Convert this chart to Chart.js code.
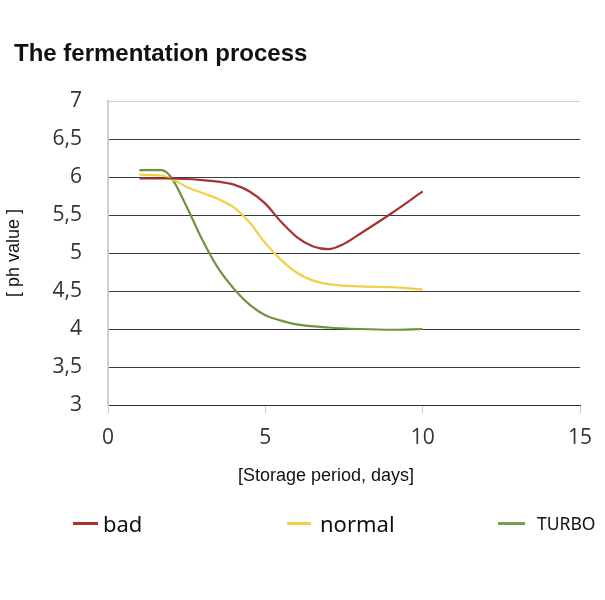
<!DOCTYPE html>
<html>
<head>
<meta charset="utf-8">
<script src="https://cdn.jsdelivr.net/npm/chart.js@4"></script>
<style>
  body { margin: 0; background: #fff; }
  #wrap { position: relative; width: 605px; height: 600px; }
  #title { position: absolute; left: 14px; top: 39px; font: bold 24px "Liberation Sans", Arial, sans-serif; color: #111; white-space: nowrap; }
  #xtitle { position: absolute; left: 226px; width: 200px; text-align: center; top: 465px; font: 18px "Liberation Sans", Arial, sans-serif; color: #111; white-space: nowrap; }
  .leg { position: absolute; top: 507px; height: 32px; font-family: "Noto Sans", sans-serif; color: #111; display: flex; align-items: center; white-space: nowrap; }
  .leg span.ln { display: inline-block; height: 3px; }
</style>
</head>
<body>
<div id="wrap">
  <canvas id="myChart" width="605" height="600"></canvas>
  <div id="title">The fermentation process</div>
  <div id="xtitle">[Storage period, days]</div>
  <div class="leg" style="left:73px;font-size:22px;"><span class="ln" style="width:25px;margin-right:5px;background:#a83232"></span>bad</div>
  <div class="leg" style="left:287px;font-size:22px;"><span class="ln" style="width:24px;margin-right:9px;background:#f0d046"></span>normal</div>
  <div class="leg" style="left:498px;font-size:17.5px;"><span class="ln" style="width:27px;margin-right:12px;background:#7a9a55"></span>TURBO</div>
</div>
<script>
// values (day -> ph)
const badDays = [1, 2, 3, 3.5, 4, 4.5, 5, 5.5, 6, 6.5, 7, 7.5, 8, 9, 10];
const badPh = [5.98, 5.98, 5.96, 5.94, 5.9, 5.81, 5.65, 5.41, 5.21, 5.09, 5.05, 5.12, 5.25, 5.52, 5.81];

const normalDays = [1, 1.7, 2, 2.5, 3, 3.5, 4, 4.5, 5, 5.5, 6, 6.5, 7, 8, 9, 10];
const normalPh = [6.03, 6.02, 5.98, 5.87, 5.79, 5.71, 5.6, 5.4, 5.13, 4.91, 4.74, 4.64, 4.59, 4.56, 4.55, 4.52];

const turboDays = [1, 1.7, 2, 2.5, 3, 3.5, 4, 4.5, 5, 5.5, 6, 7, 8, 9, 10];
const turboPh = [6.09, 6.09, 6.0, 5.61, 5.17, 4.8, 4.53, 4.32, 4.18, 4.11, 4.06, 4.02, 4.0, 3.99, 4.0];

const yTicks = [3, 3.5, 4, 4.5, 5, 5.5, 6, 6.5, 7];
const xTicks = [0, 5, 10, 15];

function pts(xs, ys) {
  return xs.map((x, i) => ({ x: x, y: ys[i] }));
}

const ctx = document.getElementById("myChart");

new Chart(ctx, {
  type: "line",
  data: {
    datasets: [
      { label: "bad", data: pts(badDays, badPh), borderColor: "#a83232", borderWidth: 2.2 },
      { label: "normal", data: pts(normalDays, normalPh), borderColor: "#f0d046", borderWidth: 2.2 },
      { label: "TURBO", data: pts(turboDays, turboPh), borderColor: "#6f9440", borderWidth: 2.2 },
    ],
  },
  options: {
    responsive: false,
    animation: false,
    elements: {
      point: { radius: 0 },
      line: { cubicInterpolationMode: "monotone" },
    },
    layout: { padding: { left: 0, top: 101, right: 25, bottom: 115 } },
    plugins: { legend: { display: false }, tooltip: { enabled: false } },
    scales: {
      x: {
        type: "linear",
        min: 0,
        max: 15,
        afterBuildTicks: (s) => { s.ticks = xTicks.map((v) => ({ value: v })); },
        afterFit: (s) => { s.height = 80; },
        border: { color: "#333", width: 1 },
        grid: { drawOnChartArea: false, drawTicks: true, tickLength: 8, color: "#c8c8c8" },
        ticks: { color: "#333", font: { family: "Open Sans", size: 21 }, padding: 12 },
      },
      y: {
        min: 3,
        max: 7,
        afterBuildTicks: (s) => { s.ticks = yTicks.map((v) => ({ value: v })); },
        afterFit: (s) => { s.width = 108; },
        border: { color: "#cfcfcf", width: 2 },
        grid: {
          drawTicks: false,
          color: (c) => (c.tick && c.tick.value === 7 ? "#cfcfcf" : "#3a3a3a"),
        },
        ticks: {
          color: "#333",
          font: { family: "Open Sans", size: 21 },
          padding: 26,
          callback: (v) => String(v).replace(".", ","),
        },
        title: {
          display: true,
          text: "[ ph value ]",
          color: "#111",
          font: { family: "Liberation Sans", size: 18 },
          padding: { top: 3, bottom: 0 },
        },
      },
    },
  },
});
</script>
</body>
</html>
